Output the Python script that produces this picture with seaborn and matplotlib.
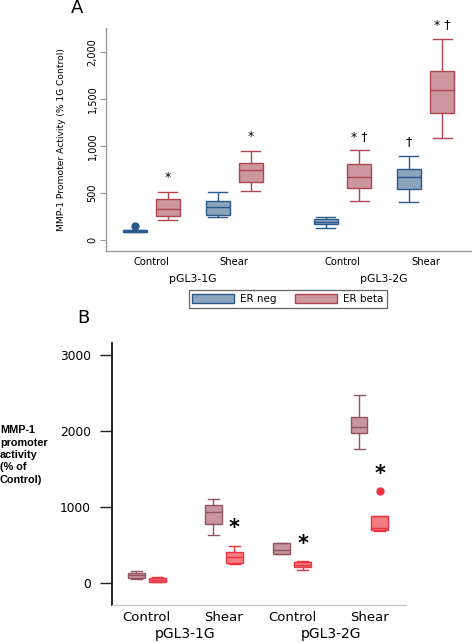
import numpy as np
import pandas as pd
import matplotlib
matplotlib.use("Agg")
import matplotlib.pyplot as plt
import matplotlib.transforms as mtrans
from matplotlib.patches import Patch
import seaborn as sns

plt.rcParams['font.family'] = ['DejaVu Sans']

# ---------------- data ----------------
conditions = ['Control', 'Shear', 'Control', 'Shear']
groups = ['pGL3-1G', 'pGL3-2G']

# Panel A: [low whisker, Q1, median, Q3, high whisker]
a_series = ['ER neg', 'ER beta']
a_er_neg = [[84, 88, 98, 108, 112], [241, 266, 348, 415, 508],
            [124, 167, 195, 220, 241], [401, 540, 667, 760, 895]]
a_er_beta = [[213, 256, 327, 433, 515], [525, 614, 746, 820, 951],
             [419, 554, 675, 806, 955], [1086, 1349, 1594, 1800, 2144]]
a_er_neg_outliers = [[145], [], [], []]
a_er_beta_outliers = [[], [], [], []]
a_er_neg_marks = ['', '', '', '†']
a_er_beta_marks = ['*', '*', '* †', '* †']
a_yticks = [0, 500, 1000, 1500, 2000]
a_yticklabels = ['0', '500', '1,000', '1,500', '2,000']

# Panel B
b_series = ['Series 1', 'Series 2']
b_s1 = [[57, 66, 105, 140, 166], [635, 784, 942, 1025, 1104],
        [381, 385, 438, 526, 534], [1765, 1975, 2059, 2181, 2470]]
b_s2 = [[13, 22, 44, 66, 79], [250, 263, 350, 407, 495],
        [175, 219, 245, 276, 289], [688, 701, 723, 890, 890]]
b_s1_outliers = [[], [], [], []]
b_s2_outliers = [[], [], [], [1210]]
b_s2_marks = ['', '*', '*', '*']
b_yticks = [0, 1000, 2000, 3000]

# ---------------- layout / style ----------------
A_POS = [151.35, 234.35, 342.5, 425.5]
B_POS = [146.7, 223.8, 292.2, 369.4]
A_FILL = {'ER neg': '#8da4be', 'ER beta': '#cc979d'}
A_EDGE = {'ER neg': '#2b5a8a', 'ER beta': '#b0444f'}
B_FILL = {'Series 1': '#c8969c', 'Series 2': '#f37d82'}
B_EDGE = {'Series 1': '#8f5560', 'Series 2': '#ec3440'}


def expand(five, outs):
    lo, q1, med, q3, hi = five
    if outs:
        return [lo, q1, q1, med, med, q3, q3, hi] + list(outs)
    return [lo, q1, med, q3, hi]


def build(pos, series, summaries, outliers):
    rows = []
    for s, summ, outs in zip(series, summaries, outliers):
        for i, (five, o) in enumerate(zip(summ, outs)):
            for v in expand(five, o):
                rows.append({'pos': pos[i], 'series': s, 'value': v})
    return pd.DataFrame(rows)


def draw(ax, df, series, fill, edge, pos, total_w, box_w, cap_w, lw):
    mindiff = np.min(np.diff(sorted(pos)))
    width = total_w / mindiff
    gap = 1 - box_w / (total_w / 2)
    for s in series:
        sns.boxplot(data=df[df['series'] == s], x='pos', y='value', hue='series',
                    hue_order=series, palette=fill, saturation=1, dodge=True,
                    native_scale=True, width=width, gap=gap, linecolor=edge[s],
                    linewidth=lw, whis=1.5, legend=False, ax=ax, capwidths=cap_w,
                    flierprops=dict(marker='o', markerfacecolor=edge[s],
                                    markeredgecolor=edge[s], markersize=5))


fig = plt.figure(figsize=(4.72, 6.43), dpi=100)
W, H = 472, 643

# ================= Panel A =================
axA = fig.add_axes([106 / W, 1 - 251 / H, 365 / W, 223 / H])
dfA = build(A_POS, a_series, [a_er_neg, a_er_beta], [a_er_neg_outliers, a_er_beta_outliers])
draw(axA, dfA, a_series, A_FILL, A_EDGE, A_POS, 66.5, 24, 19, 1.0)
axA.set_xlim(106, 471)
axA.set_ylim(-117, 2260)
axA.set_xticks(A_POS)
axA.set_xticklabels(conditions, fontsize=7.2)
axA.tick_params(axis='x', length=0, pad=4)
axA.set_yticks(a_yticks)
axA.set_yticklabels(a_yticklabels, fontsize=7)
axA.tick_params(axis='y', length=4, width=0.8, color='#999999', pad=2)
for t in axA.get_yticklabels():
    t.set_rotation(90)
    t.set_va('center')
axA.set_xlabel('')
axA.set_ylabel('MMP-1 Promoter Activity (% 1G Control)', fontsize=6.6)
axA.yaxis.set_label_coords(-0.11, 0.5)
for sp in ['top', 'right']:
    axA.spines[sp].set_visible(False)
for sp in ['left', 'bottom']:
    axA.spines[sp].set_color('#9a9a9a')
    axA.spines[sp].set_linewidth(1.0)

trA = mtrans.blended_transform_factory(axA.transData, axA.transAxes)
for g, name in enumerate(groups):
    xm = (A_POS[2 * g] + A_POS[2 * g + 1]) / 2
    axA.text(xm, -28 / 223, name, transform=trA, ha='center', va='center', fontsize=7.8)

off_A = 16.6
for summ, marks, sgn in [(a_er_neg, a_er_neg_marks, -1), (a_er_beta, a_er_beta_marks, 1)]:
    for i, (five, m) in enumerate(zip(summ, marks)):
        if m:
            axA.text(A_POS[i] + sgn * off_A, five[4] + 115, m, ha='center', va='baseline',
                     fontsize=9, clip_on=False)

handles = [Patch(facecolor=A_FILL[s], edgecolor=A_EDGE[s], linewidth=1) for s in a_series]
leg = fig.legend(handles, a_series, loc='center', bbox_to_anchor=(288 / W, 1 - 299 / H),
                 ncol=2, fontsize=7.5, handlelength=4.0, handleheight=0.85,
                 handletextpad=0.6, columnspacing=1.8, fancybox=False, framealpha=1,
                 borderpad=0.35)
leg.get_frame().set_edgecolor('#666666')
leg.get_frame().set_linewidth(0.9)

fig.text(77 / W, 1 - 8 / H, 'A', ha='center', va='center', fontsize=13)

# ================= Panel B =================
axB = fig.add_axes([111.7 / W, 1 - 605.3 / H, 294.3 / W, 262.3 / H])
dfB = build(B_POS, b_series, [b_s1, b_s2], [b_s1_outliers, b_s2_outliers])
draw(axB, dfB, b_series, B_FILL, B_EDGE, B_POS, 41.6, 16.8, 11, 1.0)
axB.set_xlim(111.7, 406)
axB.set_ylim(-289, 3158)
axB.set_xticks(B_POS)
axB.set_xticklabels(conditions, fontsize=9.5)
axB.tick_params(axis='x', length=0, pad=4)
axB.set_yticks(b_yticks)
axB.set_yticklabels([str(v) for v in b_yticks], fontsize=8.8)
axB.tick_params(axis='y', length=9, width=1.0, color='#222222', pad=6)
axB.set_xlabel('')
axB.set_ylabel('')
for sp in ['top', 'right']:
    axB.spines[sp].set_visible(False)
axB.spines['left'].set_color('#111111')
axB.spines['left'].set_linewidth(1.3)
axB.spines['bottom'].set_color('#c8c8c8')
axB.spines['bottom'].set_linewidth(1.0)

trB = mtrans.blended_transform_factory(axB.transData, axB.transAxes)
for g, name in enumerate(groups):
    xm = (B_POS[2 * g] + B_POS[2 * g + 1]) / 2
    axB.text(xm, -29 / 262.3, name, transform=trB, ha='center', va='center', fontsize=10)

off_B = 10.4
for i, m in enumerate(b_s2_marks):
    if m:
        top = max([b_s2[i][4]] + b_s2_outliers[i])
        axB.text(B_POS[i] + off_B, top + 150, m, ha='center', va='baseline',
                 fontsize=15, fontweight='bold', clip_on=False)

fig.text(0 / W, 1 - 455 / H, 'MMP-1\npromoter\nactivity\n(% of\nControl)',
         ha='left', va='center', fontsize=7.8, fontweight='bold',
         family=['Liberation Sans', 'DejaVu Sans'], linespacing=1.3)
fig.text(83 / W, 1 - 318 / H, 'B', ha='center', va='center', fontsize=13)

fig.savefig('out.png', dpi=100)
